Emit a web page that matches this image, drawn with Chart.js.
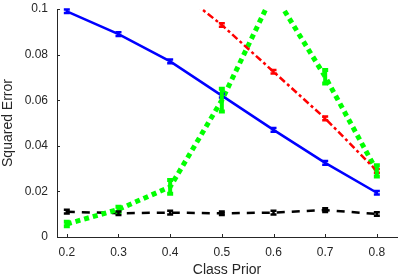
<!DOCTYPE html>
<html>
<head>
<meta charset="utf-8">
<script src="https://cdn.jsdelivr.net/npm/chart.js@4"></script>
<style>
  html, body { margin: 0; padding: 0; background: #fff; }
  #wrap { width: 399px; height: 279px; }
</style>
</head>
<body>
<div id="wrap"><canvas id="chart" width="399" height="279"></canvas></div>
<script>
const priors = [0.2, 0.3, 0.4, 0.5, 0.6, 0.7, 0.8];
const xTicks = [0.2, 0.3, 0.4, 0.5, 0.6, 0.7, 0.8];
const yTicks = [0, 0.02, 0.04, 0.06, 0.08, 0.1];

const blueVals  = [0.099, 0.089, 0.077, 0.062, 0.047, 0.0325, 0.0194];
const blueErr   = [0.0008, 0.0008, 0.0008, 0.0008, 0.0008, 0.0008, 0.0008];
const redVals   = [null, null, 0.111, 0.093, 0.0725, 0.052, 0.029];
const redErr    = [0, 0, 0.0008, 0.0008, 0.0008, 0.0008, 0.0008];
const greenVals = [0.0057, 0.0121, 0.022, 0.060, 0.107, 0.0703, 0.029];
const greenErr  = [0.001, 0.0012, 0.003, 0.005, 0.003, 0.003, 0.0025];
const blackVals = [0.0111, 0.0104, 0.0107, 0.0104, 0.0107, 0.0118, 0.0101];
const blackErr  = [0.0008, 0.0008, 0.0008, 0.0008, 0.0008, 0.0008, 0.0008];

const toPts = (vals) => priors.map((x, i) => ({x: x, y: vals[i]}));

// draws error bars and inward ticks
const errorBars = {
  id: 'errorBars',
  afterDatasetsDraw(chart) {
    const ctx = chart.ctx;
    const xs = chart.scales.x, ys = chart.scales.y;
    const a = chart.chartArea;
    ctx.save();
    ctx.beginPath();
    ctx.rect(a.left, a.top - 2, a.right - a.left, a.bottom - a.top + 2);
    ctx.clip();
    chart.data.datasets.forEach(ds => {
      ctx.strokeStyle = ds.borderColor;
      ctx.lineWidth = ds.errWidth;
      ctx.setLineDash([]);
      ds.data.forEach((p, i) => {
        if (p.y == null) return;
        const e = ds.err[i];
        const px = xs.getPixelForValue(p.x);
        const y1 = ys.getPixelForValue(p.y - e), y2 = ys.getPixelForValue(p.y + e);
        const c = ds.capW;
        ctx.beginPath();
        ctx.moveTo(px, y1); ctx.lineTo(px, y2);
        ctx.moveTo(px - c, y1); ctx.lineTo(px + c, y1);
        ctx.moveTo(px - c, y2); ctx.lineTo(px + c, y2);
        ctx.stroke();
      });
    });
    ctx.restore();
    // inward tick marks
    ctx.save();
    ctx.strokeStyle = '#262626';
    ctx.lineWidth = 1;
    ctx.beginPath();
    yTicks.forEach(v => {
      const py = Math.round(ys.getPixelForValue(v)) + 0.5;
      ctx.moveTo(a.left, py); ctx.lineTo(a.left + 3, py);
    });
    xTicks.forEach(v => {
      const px = Math.round(xs.getPixelForValue(v)) + 0.5;
      ctx.moveTo(px, a.bottom); ctx.lineTo(px, a.bottom - 3);
    });
    ctx.stroke();
    ctx.restore();
  }
};

const config = {
  type: 'line',
  data: {
    datasets: [
      {
        label: 'blue',
        data: toPts(blueVals),
        err: blueErr,
        borderColor: '#0000ff',
        borderWidth: 2.5,
        errWidth: 2.5,
        capW: 3
      },
      {
        label: 'red',
        data: toPts(redVals),
        err: redErr,
        borderColor: '#ff0000',
        borderWidth: 2.5,
        borderDash: [7, 3, 3, 3],
        errWidth: 2.5,
        capW: 3
      },
      {
        label: 'green',
        data: toPts(greenVals),
        err: greenErr,
        borderColor: '#00ff00',
        borderWidth: 5,
        borderDash: [5, 4],
        borderCapStyle: 'butt',
        errWidth: 4,
        capW: 3
      },
      {
        label: 'black',
        data: toPts(blackVals),
        err: blackErr,
        borderColor: '#000000',
        borderWidth: 2.5,
        borderDash: [8, 7],
        errWidth: 2.5,
        capW: 3
      }
    ]
  },
  options: {
    responsive: false,
    animation: false,
    devicePixelRatio: 1,
    elements: { point: { radius: 0 }, line: { tension: 0 } },
    layout: { padding: { top: 9, right: 2, left: 0, bottom: 0 } },
    plugins: { legend: { display: false }, tooltip: { enabled: false } },
    scales: {
      x: {
        type: 'linear',
        min: 0.181,
        max: 0.839,
        afterBuildTicks: (s) => { s.ticks = xTicks.map(v => ({value: v})); },
        afterFit: (s) => { s.height = 42; s.paddingLeft = 0; s.paddingRight = 0; },
        grid: { display: false, drawTicks: false },
        border: { display: true, color: '#262626', width: 1 },
        ticks: {
          padding: 8,
          color: '#262626',
          font: { family: 'Liberation Sans', size: 12 },
          callback: (v) => String(Math.round(v * 10) / 10)
        },
        title: {
          display: true,
          text: 'Class Prior',
          color: '#262626',
          font: { family: 'Liberation Sans', size: 14 },
          padding: { top: 2, bottom: 0 }
        }
      },
      y: {
        min: 0,
        max: 0.1,
        afterBuildTicks: (s) => { s.ticks = yTicks.map(v => ({value: v})); },
        afterFit: (s) => { s.width = 57; s.paddingTop = 0; s.paddingBottom = 0; },
        grid: { display: false, drawTicks: false },
        border: { display: true, color: '#262626', width: 1 },
        ticks: {
          padding: 9,
          color: '#262626',
          font: { family: 'Liberation Sans', size: 12 },
          callback: (v) => String(Math.round(v * 100) / 100)
        },
        title: {
          display: true,
          text: 'Squared Error',
          color: '#262626',
          font: { family: 'Liberation Sans', size: 14 },
          padding: { top: 0, bottom: 2 }
        }
      }
    }
  },
  plugins: [errorBars]
};

const chart = new Chart(document.getElementById('chart'), config);
</script>
</body>
</html>
